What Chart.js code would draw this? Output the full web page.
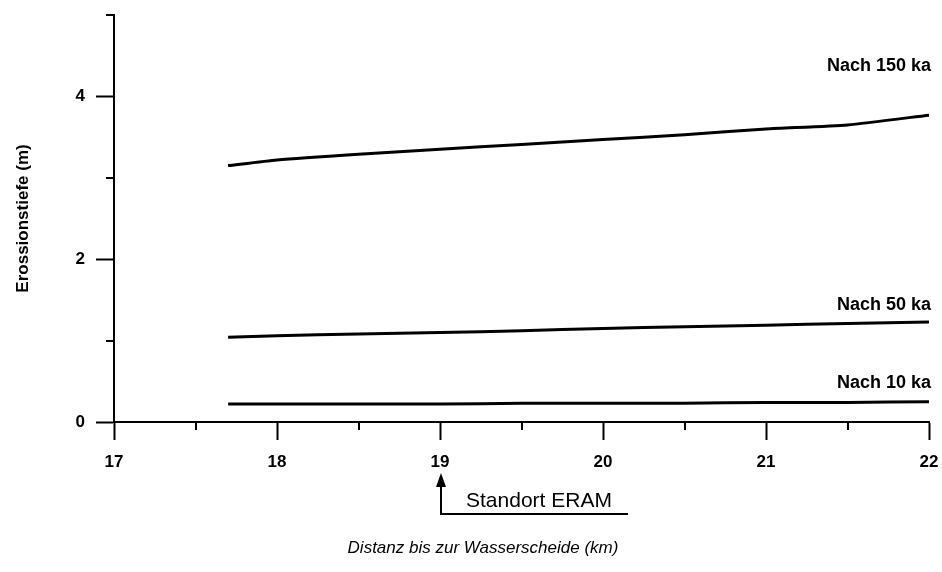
<!DOCTYPE html>
<html>
<head>
<meta charset="utf-8">
<script src="https://cdn.jsdelivr.net/npm/chart.js@4.4.1/dist/chart.umd.min.js"></script>
<style>
  html, body { margin: 0; padding: 0; background: #fff; }
  #wrap { width: 942px; height: 572px; }
</style>
</head>
<body>
<div id="wrap"><canvas id="chart" width="942" height="572"></canvas></div>
<script>
// distance to watershed (km)
var distKm = [17.7, 18, 18.5, 19, 19.5, 20, 20.5, 21, 21.5, 22];
// erosion depth (m)
var after150ka = [3.15, 3.22, 3.29, 3.35, 3.41, 3.47, 3.53, 3.60, 3.65, 3.77];
var after50ka  = [1.04, 1.06, 1.08, 1.10, 1.12, 1.15, 1.17, 1.19, 1.21, 1.23];
var after10ka  = [0.22, 0.22, 0.22, 0.22, 0.23, 0.23, 0.23, 0.24, 0.24, 0.25];
var seriesNames = ['Nach 150 ka', 'Nach 50 ka', 'Nach 10 ka'];
var xTicks = [17, 18, 19, 20, 21, 22];
var yTicks = [0, 2, 4];
var siteKm = 19;

function pts(ys) {
    return distKm.map(function(x, i) { return { x: x, y: ys[i] }; });
}

var FONT = '"Liberation Sans", Arial, sans-serif';

// minor ticks, series labels, site marker and x title
var extras = {
    id: 'extras',
    afterDraw: function(chart) {
        var ctx = chart.ctx, xs = chart.scales.x, ys = chart.scales.y, a = chart.chartArea;
        ctx.save();
        ctx.strokeStyle = '#000';
        ctx.fillStyle = '#000';
        ctx.lineWidth = 2;
        // minor ticks
        [17.5, 18.5, 19.5, 20.5, 21.5].forEach(function(v) {
            var px = Math.round(xs.getPixelForValue(v));
            ctx.beginPath(); ctx.moveTo(px, a.bottom); ctx.lineTo(px, a.bottom + 8); ctx.stroke();
        });
        [1, 3, 5].forEach(function(v) {
            var py = Math.round(ys.getPixelForValue(v));
            ctx.beginPath(); ctx.moveTo(a.left, py); ctx.lineTo(a.left - 8, py); ctx.stroke();
        });
        // series labels
        ctx.font = 'bold 18px ' + FONT;
        ctx.textAlign = 'right';
        ctx.textBaseline = 'middle';
        var labelY = [4.37, 1.44, 0.48];
        seriesNames.forEach(function(n, i) {
            ctx.fillText(n, a.right + 2, ys.getPixelForValue(labelY[i]));
        });
        // Standort ERAM marker
        var sx = Math.round(xs.getPixelForValue(siteKm)) + 1;
        ctx.lineWidth = 2;
        ctx.beginPath();
        ctx.moveTo(sx, 480); ctx.lineTo(sx, 514); ctx.lineTo(628, 514);
        ctx.stroke();
        ctx.beginPath();
        ctx.moveTo(sx, 473); ctx.lineTo(sx - 5, 487); ctx.lineTo(sx + 5, 487); ctx.closePath();
        ctx.fill();
        ctx.font = '21px ' + FONT;
        ctx.textAlign = 'left';
        ctx.textBaseline = 'alphabetic';
        ctx.fillText('Standort ERAM', 466, 507);
        // x title
        ctx.font = 'italic 17px ' + FONT;
        ctx.textAlign = 'center';
        ctx.textBaseline = 'middle';
        ctx.fillText('Distanz bis zur Wasserscheide (km)', 483, 548);
        ctx.restore();
    }
};

new Chart(document.getElementById('chart'), {
    type: 'line',
    data: {
        datasets: [
            { label: seriesNames[0], data: pts(after150ka) },
            { label: seriesNames[1], data: pts(after50ka) },
            { label: seriesNames[2], data: pts(after10ka) }
        ].map(function(d) {
            d.borderColor = '#000'; d.borderWidth = 3; d.pointRadius = 0; d.tension = 0.2; d.fill = false;
            return d;
        })
    },
    options: {
        responsive: false,
        animation: false,
        layout: { padding: { left: 0, top: 15, right: 13, bottom: 0 } },
        plugins: { legend: { display: false }, tooltip: { enabled: false } },
        scales: {
            x: {
                type: 'linear', min: 17, max: 22,
                afterFit: function(s) { s.height = 150; s.paddingRight = 0; s.paddingLeft = 0; },
                afterBuildTicks: function(s) { s.ticks = xTicks.map(function(v) { return { value: v }; }); },
                grid: { drawOnChartArea: false, tickLength: 18, tickWidth: 2, tickColor: '#000' },
                border: { color: '#000', width: 2 },
                ticks: { color: '#000', padding: 12, maxRotation: 0, font: { family: FONT, size: 17, weight: 'bold' } }
            },
            y: {
                min: 0, max: 5,
                afterFit: function(s) { s.width = 114; s.paddingTop = 0; s.paddingBottom = 0; },
                afterBuildTicks: function(s) { s.ticks = yTicks.map(function(v) { return { value: v }; }); },
                grid: { drawOnChartArea: false, tickLength: 18, tickWidth: 2, tickColor: '#000' },
                border: { color: '#000', width: 2 },
                ticks: { color: '#000', padding: 11, font: { family: FONT, size: 17, weight: 'bold' } },
                title: { display: true, text: 'Erossionstiefe (m)', color: '#000', padding: { top: 13, bottom: 0 }, font: { family: FONT, size: 17, weight: 'bold' } }
            }
        }
    },
    plugins: [extras]
});
</script>
</body>
</html>
